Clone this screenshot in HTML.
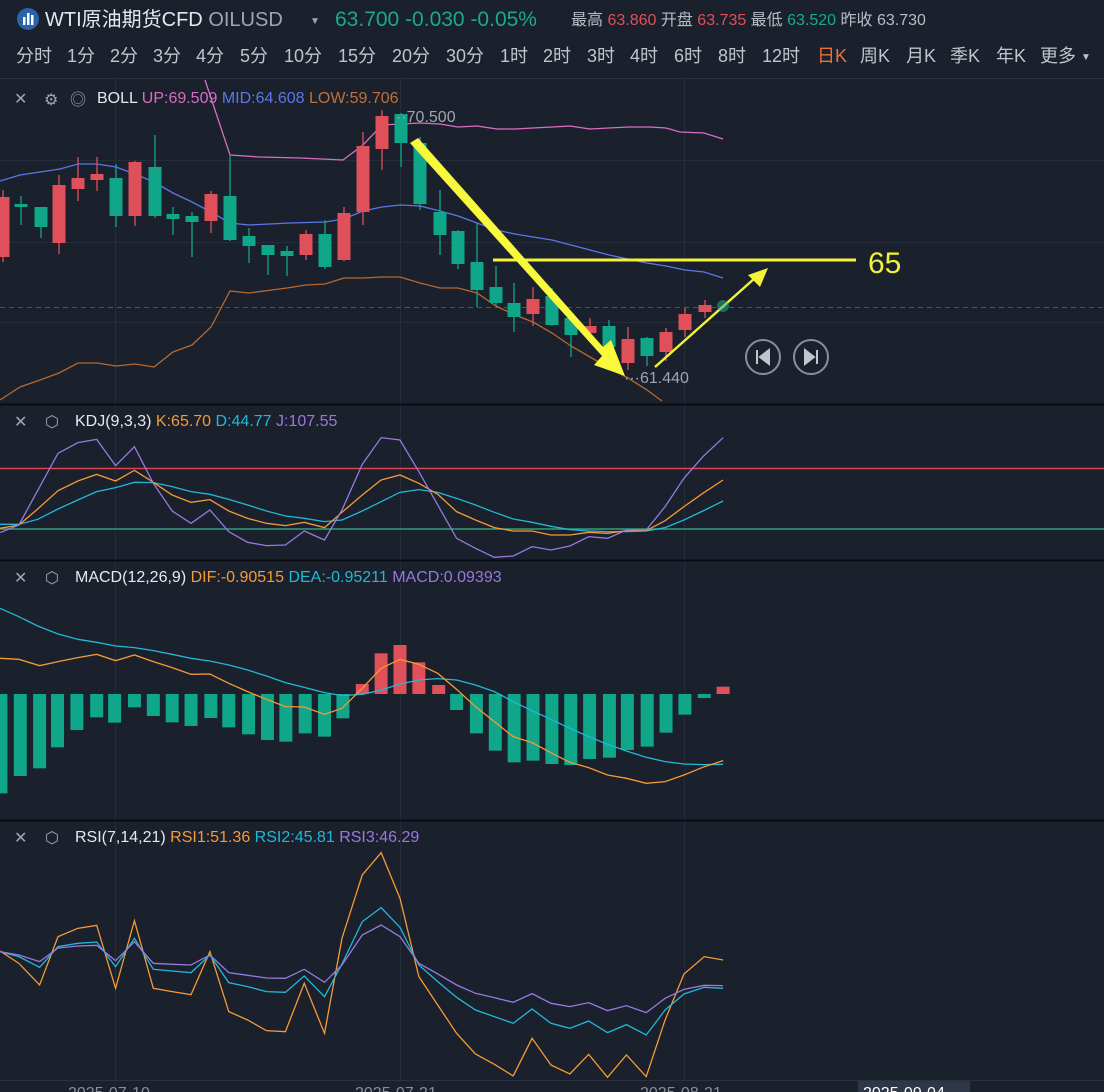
<!DOCTYPE html>
<html><head><meta charset="utf-8">
<style>
body{margin:0;background:#1a202c;width:1104px;height:1092px;overflow:hidden;font-family:"Liberation Sans","Noto Sans CJK SC",sans-serif;}
svg{position:absolute;left:0;top:0}
</style></head><body>
<svg id="s" width="1104" height="1092" xmlns="http://www.w3.org/2000/svg" font-family="Liberation Sans, Noto Sans CJK SC, sans-serif">
<rect width="1104" height="1092" fill="#1a202c"/>
<!-- header -->
<circle cx="28" cy="19" r="11" fill="#2a64a8"/>
<rect x="23" y="17" width="2.5" height="8" fill="#fff"/><rect x="27" y="13" width="2.5" height="12" fill="#fff"/><rect x="31" y="15" width="2.5" height="10" fill="#fff"/>
<text x="45" y="26" font-size="20" fill="#e6e8ec">WTI原油期货CFD <tspan fill="#a0a6b0">OILUSD</tspan></text>
<text x="310" y="24" font-size="10" fill="#a0a6b0">▼</text>
<text x="335" y="26" font-size="21" fill="#1aaa8a">63.700  -0.030  -0.05%</text>
<text x="571" y="25" font-size="16" fill="#b8bcc4">最高 <tspan fill="#e0505a">63.860</tspan> 开盘 <tspan fill="#e0505a">63.735</tspan> 最低 <tspan fill="#1aaa8a">63.520</tspan> 昨收 63.730</text>
<text x="16" y="62" font-size="18" fill="#c0c4cc" word-spacing="0">分时 <tspan x="67">1分</tspan><tspan x="110">2分</tspan><tspan x="153">3分</tspan><tspan x="196">4分</tspan><tspan x="240">5分</tspan><tspan x="284">10分</tspan><tspan x="338">15分</tspan><tspan x="392">20分</tspan><tspan x="446">30分</tspan><tspan x="500">1时</tspan><tspan x="543">2时</tspan><tspan x="587">3时</tspan><tspan x="630">4时</tspan><tspan x="674">6时</tspan><tspan x="718">8时</tspan><tspan x="762">12时</tspan><tspan x="817" fill="#f0703a">日K</tspan><tspan x="860">周K</tspan><tspan x="906">月K</tspan><tspan x="950">季K</tspan><tspan x="996">年K</tspan><tspan x="1040">更多</tspan></text>
<text x="1081" y="60" font-size="10" fill="#c0c4cc">▼</text>
<line x1="0" y1="78.5" x2="1104" y2="78.5" stroke="#2a3140"/>
<g id="grid" stroke="#262d3a" stroke-width="1">
<line x1="115.5" y1="79" x2="115.5" y2="1080"/><line x1="400.5" y1="79" x2="400.5" y2="1080"/><line x1="684.5" y1="79" x2="684.5" y2="1080"/>
<line x1="0" y1="160.5" x2="1104" y2="160.5"/><line x1="0" y1="242.5" x2="1104" y2="242.5"/><line x1="0" y1="322.5" x2="1104" y2="322.5"/>
</g>
<line x1="0" y1="307.5" x2="1104" y2="307.5" stroke="#1f6a60" stroke-dasharray="5,4"/>
<line x1="0" y1="404.5" x2="1104" y2="404.5" stroke="#0a0d12" stroke-width="2"/>
<line x1="0" y1="560.5" x2="1104" y2="560.5" stroke="#0a0d12" stroke-width="2"/>
<line x1="0" y1="820.5" x2="1104" y2="820.5" stroke="#0a0d12" stroke-width="2"/>
<line x1="0" y1="1080.5" x2="1104" y2="1080.5" stroke="#2a3140"/>
<g id="main"></g>
<text x="396" y="122" font-size="16" fill="#a0a6b0">··70.500</text>
<text x="624" y="383" font-size="16" fill="#a0a6b0">···61.440</text>
<!-- yellow annotations -->
<line x1="493" y1="260" x2="856" y2="260" stroke="#f2f23a" stroke-width="3"/>
<text x="868" y="273" font-size="30" fill="#f2f23a">65</text>
<polygon points="410,143 418,138 603,347 611,340 625,376 594,365 602,356 " fill="#f8f83c"/>
<line x1="655" y1="367" x2="755" y2="278" stroke="#f2f23a" stroke-width="2.5"/>
<polygon points="768,268 748,275 760,287" fill="#f2f23a"/>
<circle cx="723" cy="306" r="6" fill="#1fb89a" opacity="0.5"/>
<circle cx="763" cy="357" r="17" fill="none" stroke="#8a909a" stroke-width="2"/>
<circle cx="811" cy="357" r="17" fill="none" stroke="#8a909a" stroke-width="2"/>
<path d="M757 350v14M769 350l-9 7 9 7z" stroke="#c0c4cc" stroke-width="2" fill="#c0c4cc"/>
<path d="M817 350v14M805 350l9 7-9 7z" stroke="#c0c4cc" stroke-width="2" fill="#c0c4cc"/>
<!-- KDJ -->
<line x1="0" y1="468.5" x2="1104" y2="468.5" stroke="#d9434e" stroke-width="1.5"/>
<line x1="0" y1="529" x2="1104" y2="529" stroke="#2fa07a" stroke-width="1.5"/>
<g id="ind"></g>
<!-- legends -->
<g font-size="16">
<text x="14" y="104" fill="#a0a6b0">✕</text><text x="44" y="105" fill="#a0a6b0">⚙</text><text x="70" y="105" fill="#a0a6b0">◎</text>
<text x="97" y="103" fill="#e6e8ec">BOLL <tspan fill="#d66fc4">UP:69.509</tspan> <tspan fill="#5b78e8">MID:64.608</tspan> <tspan fill="#c0703a">LOW:59.706</tspan></text>
<text x="14" y="427" fill="#a0a6b0">✕</text><text x="45" y="427" fill="#a0a6b0">⬡</text>
<text x="75" y="426" fill="#e6e8ec">KDJ(9,3,3) <tspan fill="#f59a36">K:65.70</tspan> <tspan fill="#22b8d8">D:44.77</tspan> <tspan fill="#9a78e0">J:107.55</tspan></text>
<text x="14" y="583" fill="#a0a6b0">✕</text><text x="45" y="583" fill="#a0a6b0">⬡</text>
<text x="75" y="582" fill="#e6e8ec">MACD(12,26,9) <tspan fill="#f59a36">DIF:-0.90515</tspan> <tspan fill="#22b8d8">DEA:-0.95211</tspan> <tspan fill="#9a78e0">MACD:0.09393</tspan></text>
<text x="14" y="843" fill="#a0a6b0">✕</text><text x="45" y="843" fill="#a0a6b0">⬡</text>
<text x="75" y="842" fill="#e6e8ec">RSI(7,14,21) <tspan fill="#f59a36">RSI1:51.36</tspan> <tspan fill="#22b8d8">RSI2:45.81</tspan> <tspan fill="#9a78e0">RSI3:46.29</tspan></text>
</g>
<rect x="858" y="1081" width="112" height="12" fill="#2e3748"/>
<text x="68" y="1098" font-size="16" fill="#8a909a">2025-07-10</text>
<text x="355" y="1098" font-size="16" fill="#8a909a">2025-07-21</text>
<text x="640" y="1098" font-size="16" fill="#8a909a">2025-08-21</text>
<text x="863" y="1098" font-size="16" fill="#ffffff">2025-09-04</text>
</svg>
<script>
var NS="http://www.w3.org/2000/svg";
function el(p,t,a){var e=document.createElementNS(NS,t);for(var k in a)e.setAttribute(k,a[k]);p.appendChild(e);return e;}
var R="#e0505a",G="#0fa68a";
var C=[[3,197,257,190,262,R],[21,204,207,196,225,G],[41,207,227,207,238,G],[59,185,243,175,254,R],[78,178,189,157,201,R],[97,174,180,157,191,R],[116,178,216,164,227,G],[135,162,216,161,226,R],[155,167,216,135,218,G],[173,214,219,207,235,G],[192,216,222,212,257,G],[211,194,221,191,233,R],[230,196,240,155,241,G],[249,236,246,228,263,G],[268,245,255,245,275,G],[287,251,256,246,276,G],[306,234,255,230,260,R],[325,234,267,220,269,G],[344,213,260,207,261,R],[363,146,212,132,225,R],[382,116,149,110,170,R],[401,114,143,113,167,G],[420,143,204,137,210,G],[440,212,235,190,255,G],[458,231,264,230,269,G],[477,262,290,223,307,G],[496,287,303,266,306,G],[514,303,317,283,332,G],[533,299,314,287,326,R],[552,296,325,288,326,G],[571,318,335,318,357,G],[590,326,333,318,338,R],[609,326,347,320,352,G],[628,339,363,327,370,R],[647,338,356,337,366,G],[666,332,352,328,361,R],[685,314,330,308,337,R],[705,305,312,300,318,R]];
var m=document.getElementById("main");
function pl(p,pts,col,w,tr){var s="";for(var i=0;i<pts.length;i+=2)s+=pts[i]+","+pts[i+1]+" ";var a={points:s,fill:"none",stroke:col,"stroke-width":w||1.3};if(tr){a.transform=tr;a["vector-effect"]="non-scaling-stroke";}return el(p,"polyline",a);}
pl(m,[205,80,230,155,260,157,300,158,343,160,363,145,382,125,400,124,420,123,440,124,458,127,477,126,497,129,515,129,533,128,552,127,570,126,590,129,609,128,628,127,650,127,666,128,680,132,704,133,723,139],"#d66fc4");
pl(m,[0,181,20,175,40,172,60,169,78,164,97,164,116,167,135,174,154,182,173,193,192,202,211,212,230,223,249,225,290,223,325,222,344,219,363,211,382,207,400,205,420,206,440,211,458,216,477,223,496,230,515,234,533,237,552,240,571,245,590,250,609,255,628,259,647,263,666,266,685,270,704,272,723,278],"#5b78e8");
pl(m,[0,400,20,387,40,380,59,373,78,363,97,363,116,366,135,364,154,367,173,352,192,345,211,327,230,291,249,293,287,288,306,285,325,284,344,278,363,278,382,277,400,277,420,283,440,288,458,288,477,293,496,306,515,315,533,322,552,333,571,346,590,357,609,368,628,378,647,390,662,401],"#b8682e");
C.forEach(function(c){el(m,"line",{x1:c[0],y1:c[3],x2:c[0],y2:c[4],stroke:c[5],"stroke-width":1.3});el(m,"rect",{x:c[0]-6.5,y:c[1],width:13,height:Math.max(2,c[2]-c[1]),fill:c[5]});});
var g=document.getElementById("ind");
var T1="translate(0,405) scale(0.4717,0.3333)",T2="translate(0,560) scale(0.4717,0.3333)",T3="translate(0,820) scale(0.4717,0.3333)";
var O="#f59a36",B="#22b8d8",P="#9a78e0";
pl(g,[0,358,40,358,80,343,123,312,165,285,205,260,245,248,285,232,325,233,365,245,405,260,445,268,485,283,525,300,565,318,605,333,645,340,688,350,725,345,768,318,808,290,848,262,888,254,928,262,968,280,1008,300,1048,322,1088,342,1128,352,1168,364,1208,374,1248,378,1288,380,1328,380,1370,378,1410,368,1450,345,1490,318,1533,288],B,1.3,T1);
pl(g,[0,370,40,360,80,312,123,257,165,228,205,208,245,228,285,196,325,232,365,270,405,292,445,284,485,318,525,340,565,355,605,362,645,352,688,368,725,322,768,270,808,225,848,210,888,235,928,268,968,320,1008,345,1048,368,1088,378,1128,378,1168,390,1208,390,1248,382,1288,385,1328,377,1370,377,1410,347,1450,305,1490,265,1533,225],O,1.3,T1);
pl(g,[0,383,40,360,123,145,165,113,205,103,245,182,285,125,325,235,365,318,405,355,445,315,485,380,525,412,565,422,605,420,645,378,688,405,725,315,768,178,808,98,848,105,888,200,928,300,968,400,1008,430,1048,457,1088,453,1128,425,1168,435,1208,423,1248,395,1288,400,1328,375,1370,375,1410,305,1450,220,1490,155,1533,98],P,1.3,T1);
var H=[[2,700],[43,648],[84,625],[122,562],[163,510],[205,472],[243,488],[285,442],[325,468],[365,487],[405,498],[447,474],[485,502],[527,523],[567,540],[606,545],[647,520],[688,530],[727,475],[768,372],[808,280],[848,255],[888,307],[930,375],[968,450],[1010,520],[1050,572],[1090,607],[1130,602],[1170,612],[1210,615],[1250,597],[1292,593],[1330,570],[1372,560],[1412,518],[1452,464],[1493,414],[1533,380]];
H.forEach(function(h){var x=h[0]/2.12,y=560+h[1]/3,z=694;el(g,"rect",{x:x-6.5,y:Math.min(y,z),width:13,height:Math.max(2,Math.abs(y-z)),fill:h[1]<402?R:G});});
pl(g,[0,145,40,170,80,198,123,222,165,238,205,247,245,258,285,263,325,272,365,283,405,295,445,303,485,315,525,330,565,348,605,368,645,382,688,398,725,407,768,403,808,390,848,372,888,360,928,356,968,360,1008,375,1048,395,1088,425,1128,452,1168,478,1208,505,1248,530,1288,553,1328,573,1370,592,1410,605,1450,612,1490,614,1533,613],B,1.3,T2);
pl(g,[0,295,40,298,84,317,123,305,165,293,205,283,245,302,285,285,325,305,365,323,405,343,445,342,485,370,525,395,565,418,605,440,645,441,688,463,725,445,768,385,808,325,848,298,888,313,928,340,968,388,1008,440,1048,485,1088,530,1128,548,1168,578,1208,607,1248,623,1288,645,1328,655,1370,670,1410,665,1450,645,1490,622,1533,602],O,1.3,T2);
pl(g,[0,393,40,430,84,495,123,350,165,325,205,316,245,505,285,302,325,505,365,515,405,524,445,395,485,575,525,600,565,632,605,635,645,490,688,640,725,355,768,165,808,98,848,235,888,470,928,555,968,640,1008,702,1048,733,1088,768,1128,655,1168,735,1208,762,1248,703,1288,772,1328,705,1370,770,1410,600,1450,462,1493,410,1533,420],O,1.3,T3);
pl(g,[0,395,40,410,84,442,123,380,165,370,205,366,245,440,285,355,325,448,365,453,405,458,445,405,485,488,525,500,565,515,605,517,645,468,688,530,725,432,768,305,808,263,848,322,888,435,928,485,968,532,1008,570,1048,590,1088,610,1128,567,1168,610,1208,625,1248,603,1288,638,1328,614,1370,645,1410,570,1450,522,1493,502,1533,505],B,1.3,T3);
pl(g,[0,395,40,405,84,425,123,384,165,378,205,376,245,422,285,365,325,430,365,433,405,435,445,405,485,458,525,466,565,474,605,475,645,448,688,487,725,435,768,345,808,315,848,350,888,430,928,462,968,495,1008,520,1048,533,1088,547,1128,521,1168,550,1208,560,1248,548,1288,572,1328,557,1370,578,1410,535,1450,508,1493,496,1533,497],P,1.3,T3);
</script>
</body></html>
